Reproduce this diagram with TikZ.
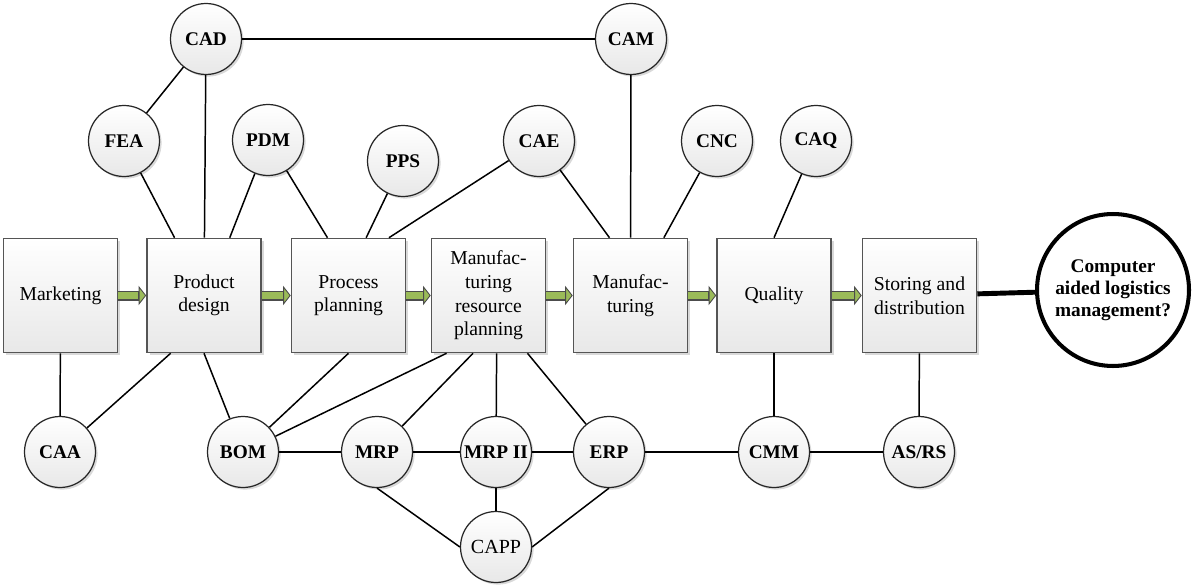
\documentclass[tikz,border=0pt]{standalone}
\usepackage{fontspec}
\setmainfont{Liberation Serif}
\usetikzlibrary{shadows}
\usetikzlibrary{arrows.meta}
\definecolor{flowgreen}{RGB}{155,187,89}
\definecolor{edgegray}{RGB}{85,85,85}

\tikzset{
  stage/.style={rectangle, draw=edgegray, line width=0.9pt, top color=white, bottom color=black!9,
    minimum width=2.28cm, minimum height=2.28cm, inner sep=0pt, align=center,
    font=\fontsize{11.2}{13.4}\selectfont,
    drop shadow={shadow xshift=1.5pt, shadow yshift=-1.5pt, opacity=0.3}},
  tool/.style={circle, draw=black!85, line width=0.7pt, top color=white, bottom color=black!9,
    minimum size=1.42cm, inner sep=0pt, font=\fontsize{11}{13}\selectfont\bfseries,
    drop shadow={shadow xshift=1.2pt, shadow yshift=-1.2pt, opacity=0.3}},
  link/.style={line width=0.85pt},
  flow/.style={draw=black!70, line width=0.2cm,
    -{Triangle[length=0.15cm, width=0.38cm, color=black!70, fill=flowgreen, line width=0.5pt]},
    postaction={draw=flowgreen, line width=0.13cm, -, shorten >=0.16cm}}
}

\begin{document}
\begin{tikzpicture}[x=0.02cm, y=-0.02cm]
\useasboundingbox (0,0) rectangle (1195,584);

\node [stage] (mkt) at (60.5,295.5) {Marketing};
\node [stage] (pd)  at (204,295.5) {Product\\design};
\node [stage] (pp)  at (348.5,295.5) {Process\\planning};
\node [stage] (mb)  at (488.5,295.5) {Manufac-\\turing\\resource\\planning};
\node [stage] (mfg) at (630.5,295.5) {Manufac-\\turing};
\node [stage] (ql)  at (774,295.5) {Quality};
\node [stage] (sd)  at (919.5,295.5) {Storing and\\distribution};
\node [circle, draw, line width=2.3pt, minimum size=3.04cm, inner sep=0pt, align=center,
  font=\fontsize{11}{12.5}\selectfont\bfseries] (clm) at (1113,290)
  {Computer\\aided logistics\\management?};

\node [tool] (cad)   at (206,39) {CAD};
\node [tool] (cam)   at (631,39) {CAM};
\node [tool] (fea)   at (124,141) {FEA};
\node [tool] (pdm)   at (268,140) {PDM};
\node [tool] (pps)   at (403,161) {PPS};
\node [tool] (cae)   at (539,141) {CAE};
\node [tool] (cnc)   at (717,141) {CNC};
\node [tool] (caq)   at (816,141) {CAQ};
\node [tool] (caa)   at (60,452) {CAA};
\node [tool] (bom)   at (243,452) {BOM};
\node [tool] (mrp)   at (377,452) {MRP};
\node [tool] (mrpii) at (496,452) {MRP II};
\node [tool] (erp)   at (609,452) {ERP};
\node [tool] (cmm)   at (774,452) {CMM};
\node [tool] (asrs)  at (919,452) {AS/RS};
\node [tool, font=\fontsize{11.4}{13}\selectfont] (capp) at (496,547) {CAPP};

\foreach \a/\b in {mkt/pd, pd/pp, pp/mb, mb/mfg, mfg/ql, ql/sd}
  \draw [flow] (\a) -- (\b);

\draw [link] (cad) -- (cam);
\draw [link] (cad) -- (fea);
\draw [link] (cad) -- (pd);
\draw [link] (fea) -- (pd.117);
\draw [link] (pdm) -- (pd.66);
\draw [link] (pdm) -- (pp.110);
\draw [link] (pps) -- (pp.73);
\draw [link] (cae) -- (pp.55);
\draw [link] (cae) -- (mfg.110);
\draw [link] (cam) -- (mfg);
\draw [link] (cnc) -- (mfg.60);
\draw [link] (caq) -- (ql.north);

\draw [link] (mkt) -- (caa);
\draw [link] (pd.240) -- (caa);
\draw [link] (pd.south) -- (bom);
\draw [link] (pp.south) -- (bom);
\draw [link] (mb.234) -- (bom);
\draw [link] (mb.255) -- (mrp);
\draw [link] (mb.278) -- (mrpii);
\draw [link] (mb.304) -- (erp);
\draw [link] (bom) -- (mrp) -- (mrpii) -- (erp) -- (cmm) -- (asrs);
\draw [link] (ql) -- (cmm);
\draw [link] (sd) -- (asrs);
\draw [link] (mrp.south) -- (capp.west);
\draw [link] (mrpii) -- (capp);
\draw [link] (erp.south) -- (capp.east);

\draw [line width=2.8pt] (sd) -- (clm);
\end{tikzpicture}
\end{document}
